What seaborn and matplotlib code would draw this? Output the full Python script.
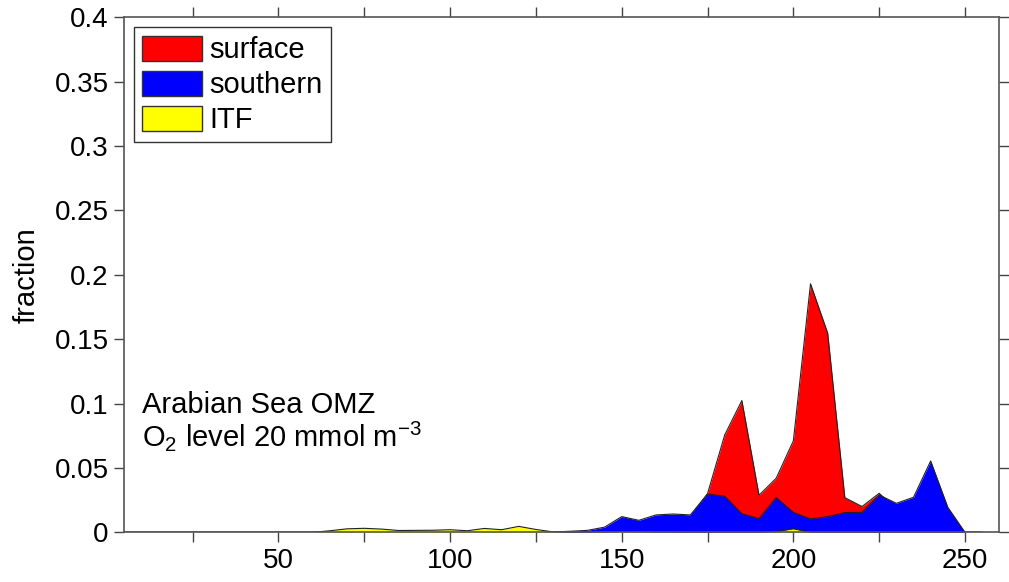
import numpy as np
import pandas as pd
import matplotlib
matplotlib.use("Agg")
import matplotlib.pyplot as plt
import seaborn as sns
from matplotlib.ticker import FixedLocator, FuncFormatter
from matplotlib.patches import Patch

# ---- data ----
x_vals = list(range(5, 256, 5))

surface = {170: 0.012, 175: 0.030, 180: 0.0756, 185: 0.1023, 190: 0.0288,
           195: 0.042, 200: 0.071, 205: 0.193, 210: 0.1547, 215: 0.0269,
           220: 0.0200, 225: 0.0303, 230: 0.018, 235: 0.015, 240: 0.010,
           245: 0.005}
southern = {130: 0.0003, 135: 0.0008, 140: 0.0015, 145: 0.0040, 150: 0.0122,
            155: 0.0093, 160: 0.0135, 165: 0.0142, 170: 0.0135, 175: 0.0298,
            180: 0.0280, 185: 0.0145, 190: 0.0106, 195: 0.0270, 200: 0.0155,
            205: 0.0104, 210: 0.0122, 215: 0.0153, 220: 0.0155, 225: 0.0290,
            230: 0.0225, 235: 0.0272, 240: 0.0554, 245: 0.0194}
itf = {65: 0.0012, 70: 0.0027, 75: 0.0031, 80: 0.0025, 85: 0.0014,
       90: 0.0015, 95: 0.0016, 100: 0.0020, 105: 0.0012, 110: 0.0030,
       115: 0.0020, 120: 0.0046, 125: 0.0022, 130: 0.0003, 145: 0.0002,
       150: 0.0005, 155: 0.0004, 195: 0.0006, 200: 0.0028}

series_names = ["surface", "southern", "ITF"]
series_colors = ["#ff0000", "#0000ff", "#ffff00"]
x_ticks = list(range(25, 251, 25))
y_ticks = [0, 0.05, 0.1, 0.15, 0.2, 0.25, 0.3, 0.35, 0.4]

df = pd.DataFrame({
    "x": x_vals,
    "surface": [surface.get(v, 0.0) for v in x_vals],
    "southern": [southern.get(v, 0.0) for v in x_vals],
    "ITF": [itf.get(v, 0.0) for v in x_vals],
})

# ---- style ----
sns.set_theme(style="white")
plt.rcParams["font.family"] = ["Liberation Sans", "DejaVu Sans"]
plt.rcParams["text.color"] = "black"
plt.rcParams["axes.labelcolor"] = "black"
plt.rcParams["mathtext.fontset"] = "custom"
plt.rcParams["mathtext.rm"] = "Liberation Sans"
plt.rcParams["mathtext.it"] = "Liberation Sans:italic"
plt.rcParams["mathtext.default"] = "regular"

FS = 20
fig = plt.figure(figsize=(10.09, 5.82), dpi=100)
ax = fig.add_axes([0.1229, 0.0854, 0.9904 - 0.1229, 0.9703 - 0.0854])

for i, (name, col) in enumerate(zip(series_names, series_colors)):
    ax.fill_between(df["x"], 0, df[name], color=col, linewidth=0, zorder=1 + 0.2 * i)
    sns.lineplot(data=df, x="x", y=name, ax=ax, color="#222222",
                 linewidth=0.8, estimator=None, legend=False, zorder=1.1 + 0.2 * i)

ax.set_xlim(5, 260)
ax.set_ylim(0, 0.4)
ax.xaxis.set_major_locator(FixedLocator(x_ticks))
ax.xaxis.set_major_formatter(FuncFormatter(lambda v, p: f"{int(v)}" if int(v) % 50 == 0 else ""))
ax.yaxis.set_major_locator(FixedLocator(y_ticks))
ax.yaxis.set_major_formatter(FuncFormatter(lambda v, p: f"{v:g}"))
ax.tick_params(direction="out", top=True, right=True, bottom=True, left=True,
               length=7, width=1, color="#444444", labelsize=FS,
               labelcolor="black", pad=4)
for s in ax.spines.values():
    s.set_color("#555555")
    s.set_linewidth(1.2)
    s.set_zorder(3)
ax.set_xlabel("")
ax.set_ylabel("fraction", fontsize=21, labelpad=10)

ax.text(10.3, 0.0927, "Arabian Sea OMZ", fontsize=21, va="baseline", ha="left")
ax.text(10.3, 0.067, r"O$_2$ level 20 mmol m$^{-3}$", fontsize=21,
        va="baseline", ha="left")

handles = [Patch(facecolor=c, edgecolor="#333333", linewidth=1) for c in series_colors]
leg = ax.legend(handles, series_names, loc="upper left", fontsize=21,
                frameon=True, fancybox=False, edgecolor="black",
                handlelength=2.05, handleheight=0.95, handletextpad=0.25,
                labelspacing=0.22, borderpad=0.28, borderaxespad=0.35)
leg.get_frame().set_linewidth(1.0)
leg.set_zorder(5)

fig.savefig("out.png", dpi=100)
